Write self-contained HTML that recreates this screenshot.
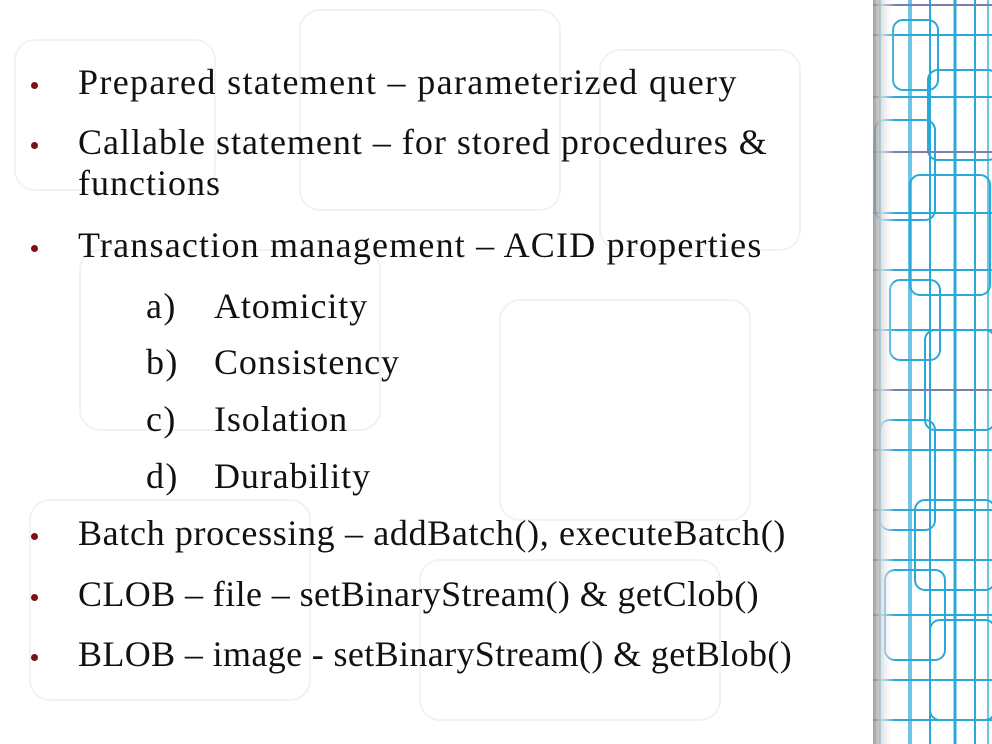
<!DOCTYPE html>
<html><head><meta charset="utf-8"><style>
body{margin:0;width:992px;height:744px;overflow:hidden;background:#fff;position:relative;font-family:"Liberation Serif",serif;}
.t{position:absolute;left:78px;font-size:36px;color:#111;white-space:nowrap;letter-spacing:1.35px;line-height:1}
.b{position:absolute;left:31px;width:7px;height:7px;border-radius:50%;background:#7a1010}
</style></head><body>
<svg width="992" height="744" style="position:absolute;left:0;top:0">
<defs><linearGradient id="sh" x1="0" x2="1"><stop offset="0" stop-color="#888"/><stop offset="0.4" stop-color="#ddd"/><stop offset="1" stop-color="#fff" stop-opacity="0"/></linearGradient></defs>
<g stroke="#edf3f6" stroke-width="2" fill="none">
<rect x="15" y="40" width="200" height="150" rx="20"/><rect x="300" y="10" width="260" height="200" rx="20"/>
<rect x="80" y="250" width="300" height="180" rx="20"/><rect x="500" y="300" width="250" height="220" rx="20"/>
<rect x="30" y="500" width="280" height="200" rx="20"/><rect x="600" y="50" width="200" height="200" rx="20"/>
<rect x="420" y="560" width="300" height="160" rx="20"/>
</g>
<rect x="873" y="0" width="119" height="744" fill="#fff"/>
<g stroke="#2aa8d8" stroke-width="2" fill="none">
<line x1="880" y1="0" x2="880" y2="744"/><line x1="910" y1="0" x2="910" y2="744" stroke="#6cc6e6" stroke-width="4"/>
<line x1="930" y1="0" x2="930" y2="744"/><line x1="955" y1="0" x2="955" y2="744" stroke-width="3"/>
<line x1="975" y1="0" x2="975" y2="744"/><line x1="988" y1="0" x2="988" y2="744" stroke="#6cc6e6"/>
<rect x="893" y="20" width="45" height="70" rx="10"/><rect x="928" y="70" width="70" height="90" rx="10"/>
<rect x="875" y="120" width="60" height="100" rx="10"/><rect x="910" y="175" width="80" height="120" rx="10"/>
<rect x="890" y="280" width="50" height="80" rx="10"/><rect x="925" y="330" width="70" height="100" rx="10"/>
<rect x="880" y="420" width="55" height="110" rx="10"/><rect x="915" y="500" width="80" height="90" rx="10"/>
<rect x="885" y="570" width="60" height="90" rx="10"/><rect x="930" y="620" width="65" height="100" rx="10"/>
<line x1="873" y1="5" x2="992" y2="5" stroke="#7a7fb0"/><line x1="873" y1="35" x2="992" y2="35"/>
<line x1="873" y1="97" x2="992" y2="97"/><line x1="873" y1="152" x2="992" y2="152" stroke="#7a7fb0"/>
<line x1="873" y1="213" x2="992" y2="213"/><line x1="873" y1="270" x2="992" y2="270"/>
<line x1="873" y1="330" x2="992" y2="330"/><line x1="873" y1="390" x2="992" y2="390" stroke="#7a7fb0"/>
<line x1="873" y1="450" x2="992" y2="450"/><line x1="873" y1="510" x2="992" y2="510"/>
<line x1="873" y1="560" x2="992" y2="560"/><line x1="873" y1="615" x2="992" y2="615"/>
<line x1="873" y1="680" x2="992" y2="680"/><line x1="873" y1="720" x2="992" y2="720"/>
</g>
<rect x="873" y="0" width="22" height="744" fill="url(#sh)" opacity="0.8"/>
</svg>
<div class="b" style="top:82px"></div><div class="t" style="top:64px">Prepared statement – parameterized query</div>
<div class="b" style="top:142px"></div><div class="t" style="top:124px;letter-spacing:1.0px">Callable statement – for stored procedures &amp;</div>
<div class="t" style="top:165px;letter-spacing:1.0px">functions</div>
<div class="b" style="top:245px"></div><div class="t" style="top:227px;letter-spacing:1.2px">Transaction management – ACID properties</div>
<div class="t" style="top:288px;left:146px">a)</div><div class="t" style="top:288px;left:214px;letter-spacing:0.9px">Atomicity</div>
<div class="t" style="top:344px;left:146px">b)</div><div class="t" style="top:344px;left:214px;letter-spacing:0.9px">Consistency</div>
<div class="t" style="top:401px;left:146px">c)</div><div class="t" style="top:401px;left:214px;letter-spacing:0.9px">Isolation</div>
<div class="t" style="top:458px;left:146px">d)</div><div class="t" style="top:458px;left:214px;letter-spacing:0.9px">Durability</div>
<div class="b" style="top:533px"></div><div class="t" style="top:515px;letter-spacing:0.65px">Batch processing – addBatch(), executeBatch()</div>
<div class="b" style="top:594px"></div><div class="t" style="top:576px;letter-spacing:0.4px">CLOB – file – setBinaryStream() &amp; getClob()</div>
<div class="b" style="top:654px"></div><div class="t" style="top:636px;letter-spacing:0.37px">BLOB – image - setBinaryStream() &amp; getBlob()</div>
</body></html>
